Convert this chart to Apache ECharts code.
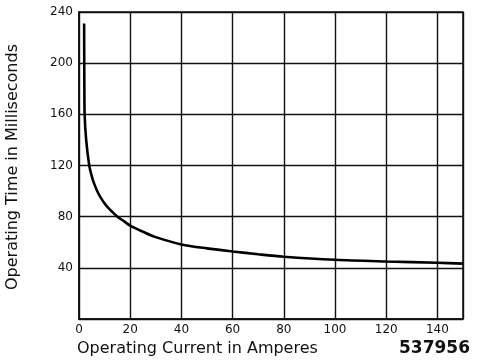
<!DOCTYPE html>
<html><head><meta charset="utf-8">
<script src="https://cdn.jsdelivr.net/npm/echarts@6/dist/echarts.min.js"></script>
<style>html,body{margin:0;padding:0;background:#fff}#c{width:483px;height:362px}</style>
</head><body><div id="c"></div>
<script>
const currentA = [2.0, 2.05, 2.1, 2.2, 2.8, 4.0, 5.0, 5.7, 7.0, 8.6, 10.5, 13, 15, 17.5, 20, 25, 30, 40, 50, 60, 70, 80, 100, 120, 140, 150];
const timeMs   = [231, 200, 180, 160, 140, 120, 111.5, 107, 100.5, 94.5, 89, 83.7, 80, 76.5, 73, 68.2, 64, 58.3, 55.2, 52.8, 50.6, 48.7, 46.3, 45, 44, 43.3];
const xTicks = [0, 20, 40, 60, 80, 100, 120, 140];
const yTicks = [40, 80, 120, 160, 200, 240];
const xTitle = 'Operating Current in Amperes';
const yTitle = 'Operating Time in Milliseconds';
const figId = '537956';

const chart = echarts.init(document.getElementById('c'), null, {renderer: 'canvas'});
const F = '"DejaVu Sans", Verdana, sans-serif';
chart.setOption({
  animation: false,
  grid: {left: 79, right: 20, top: 12, bottom: 43, show: true, borderColor: '#111', borderWidth: 1.5},
  xAxis: {
    type: 'value', min: 0, max: 150, interval: 20,
    axisLine: {show: true, lineStyle: {color: '#111', width: 1.5}},
    axisTick: {show: false},
    splitLine: {show: true, lineStyle: {color: '#111', width: 1.4}},
    axisLabel: {color: '#111', fontFamily: F, fontSize: 12, margin: 5,
      formatter: v => xTicks.includes(v) ? String(v) : ''}
  },
  yAxis: {
    type: 'value', min: 0, max: 240, interval: 40,
    axisLine: {show: true, lineStyle: {color: '#111', width: 1.5}},
    axisTick: {show: false},
    splitLine: {show: true, lineStyle: {color: '#111', width: 1.4}},
    axisLabel: {color: '#111', fontFamily: F, fontSize: 12, margin: 6,
      formatter: v => yTicks.includes(v) ? String(v) : ''}
  },
  series: [{
    type: 'line', smooth: 0.3, symbol: 'none',
    data: currentA.map((x, i) => [x, timeMs[i]]),
    lineStyle: {color: '#000', width: 2.6}
  }],
  graphic: [
    {type: 'text', left: 77, top: 341, style: {text: xTitle, font: '16px ' + F, fill: '#111'}},
    {type: 'text', right: 13, top: 340, style: {text: figId, font: 'bold 17px ' + F, fill: '#111'}},
    {type: 'text', x: 5, y: 167, rotation: Math.PI / 2, style: {text: yTitle, font: '16px ' + F, fill: '#111', align: 'center', verticalAlign: 'top'}}
  ]
});
</script></body></html>
